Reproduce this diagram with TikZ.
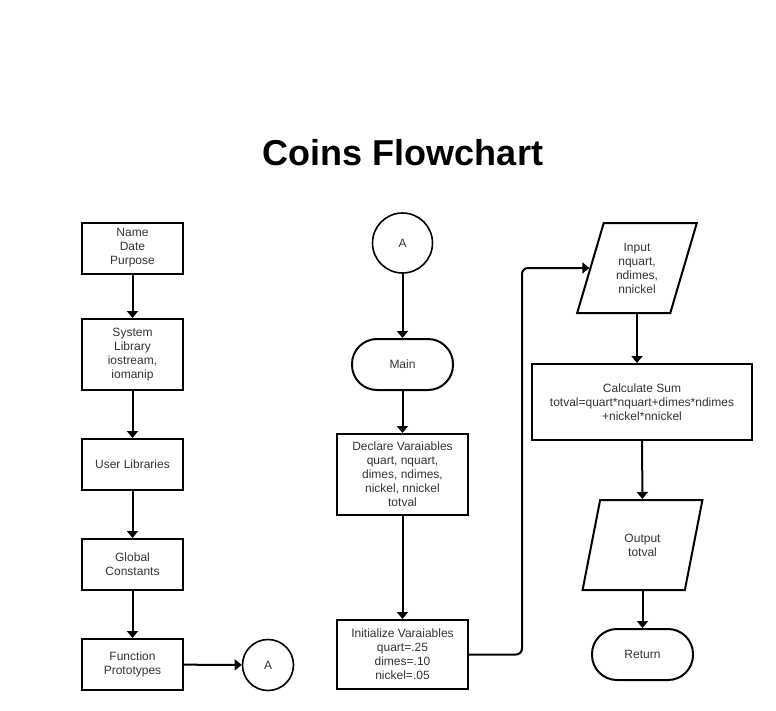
\documentclass[tikz,border=0pt]{standalone}
\usepackage{fontspec}
\setmainfont{Liberation Sans}
\usepackage{tikz}
\usetikzlibrary{arrows.meta,shapes.geometric}
\tikzset{
    every node/.style={draw, line width=2pt, inner sep=0pt, align=center,
    	text=black!80, font=\fontsize{12}{14}\selectfont}
}
\tikzset{
    box/.style={rectangle, minimum width=101pt, minimum height=51pt},
    term/.style={box, rounded corners=25pt},
    conn/.style={circle, minimum size=51pt, line width=1.6pt},
    io/.style={trapezium, trapezium left angle=71.6, trapezium right angle=108.4,
    	trapezium stretches=true, minimum width=120pt, minimum height=90pt}
}
\tikzset{
    every edge/.append style={line width=2pt, -{Triangle[width=11pt,length=7pt]}}
}

\begin{document}
\begin{tikzpicture}
	\useasboundingbox (0pt, 0pt) rectangle (776pt, -710pt);
	\node (0) [draw=none, text=black, anchor=base, font=\fontsize{36}{42}\selectfont\bfseries] at (403pt, -165pt) {Coins Flowchart};

	\node (1) [box] at (132.5pt, -248.0pt) {Name\\Date\\Purpose};
	\node (2) [box, minimum height=71pt] at (132.5pt, -354.5pt) {System\\Library\\iostream,\\iomanip};
	\node (3) [box] at (132.5pt, -464.5pt) {User Libraries};
	\node (4) [box] at (132.5pt, -564.5pt) {Global\\Constants};
	\node (5) [box] at (132.5pt, -664.5pt) {Function\\Prototypes};
	\node (6) [conn] at (268.0pt, -665.0pt) {A};

	\node (7) [conn, minimum size=60pt] at (402.5pt, -243.0pt) {A};
	\node (8) [term] at (402.5pt, -364.5pt) {Main};
	\node (9) [box, minimum width=131pt, minimum height=81pt] at (402.5pt, -474.5pt) {Declare Varaiables\\quart, nquart,\\dimes, ndimes,\\nickel, nnickel\\totval};
	\node (10) [box, minimum width=131pt, minimum height=69pt] at (402.5pt, -654.5pt) {Initialize Varaiables\\quart=.25\\dimes=.10\\nickel=.05};

	\node (11) [io] at (637.0pt, -268.0pt) {Input\\nquart,\\ndimes,\\nnickel};
	\node (12) [box, minimum width=220pt, minimum height=76pt] at (642.0pt, -402.0pt) {Calculate Sum\\totval=quart*nquart+dimes*ndimes\\+nickel*nnickel};
	\node (13) [io] at (642.5pt, -545.0pt) {Output\\totval};
	\node (14) [term] at (642.5pt, -654.5pt) {Return};

	\draw (1) edge (2); \draw (2) edge (3);
	\draw (3) edge (4); \draw (4) edge (5);
	\draw (5) edge (6);
	\draw (7) edge (8); \draw (8) edge (9);
	\draw (9) edge (10);
	\draw [line width=2pt, rounded corners=6pt, -{Triangle[width=11pt,length=7pt]}]
		(10.east) -- ++(53pt, 0pt) |- (11.left side);
	\draw (11.south) edge (11.south |- 12.north);
	\draw (12) edge (13); \draw (13) edge (14);
\end{tikzpicture}
\end{document}
